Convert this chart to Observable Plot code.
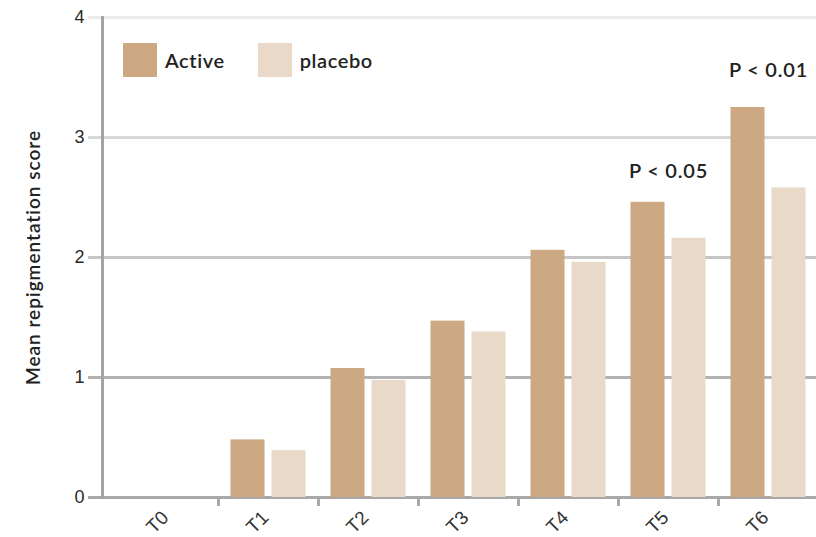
<!DOCTYPE html>
<html>
<head>
<meta charset="utf-8">
<script src="https://cdn.jsdelivr.net/npm/d3@7"></script>
<script src="https://cdn.jsdelivr.net/npm/@observablehq/plot@0.6"></script>
<style>
  body { margin: 0; background: #fff; }
  #wrap { position: relative; width: 816px; height: 537px; }
  #legend { position: absolute; left: 123px; top: 43px; display: flex; align-items: center;
            font-family: Lato, "Open Sans", sans-serif; font-weight: 600; font-size: 20px;
            letter-spacing: 0.6px; color: #222; }
  .item { display: flex; align-items: center; }
  .sw { width: 34px; height: 34px; margin-right: 8px; }
</style>
</head>
<body>
<div id="wrap"><div id="legend"></div></div>
<script>
const categories = ["T0", "T1", "T2", "T3", "T4", "T5", "T6"];
const activeValues = [0, 0.48, 1.075, 1.47, 2.06, 2.46, 3.25];
const placeboValues = [0, 0.39, 0.975, 1.38, 1.96, 2.16, 2.58];
const seriesNames = ["Active", "placebo"];
const yTicks = [0, 1, 2, 3, 4];
const annotationCats = ["T5", "T6"];
const annotationLabels = ["P < 0.05", "P < 0.01"];
const annotationY = [2.72, 3.56];
const yLabel = "Mean repigmentation score";

const colors = {Active: "#cca883", placebo: "#e8d9c8"};
const gridColor = d3.scaleLinear().domain([0, 1, 4]).range(["#a8a8a8", "#b2b2b2", "#ebebeb"]);

const activeData = categories.map((c, i) => ({cat: c, value: activeValues[i]}));
const placeboData = categories.map((c, i) => ({cat: c, value: placeboValues[i]}));
const annotations = annotationCats.map((c, i) => ({cat: c, label: annotationLabels[i], y: annotationY[i]}));

const gridMarks = yTicks.map(t => Plot.ruleY([t], {stroke: gridColor(t), strokeWidth: 3, insetLeft: -14}));

const chart = Plot.plot({
  width: 816,
  height: 537,
  marginLeft: 102,
  marginRight: 0,
  marginTop: 17,
  marginBottom: 40,
  style: {fontFamily: "'Liberation Sans', Arial, sans-serif", background: "#fff"},
  x: {type: "band", domain: categories, range: [118, 818], padding: 0, axis: null},
  y: {domain: [0, 4], axis: null},
  marks: [
    ...gridMarks,
    Plot.frame({anchor: "left", stroke: "#a3a3a3", strokeWidth: 3}),
    Plot.barY(activeData, {x: "cat", y: "value", fill: colors.Active, insetLeft: 12.5, insetRight: 53.5}),
    Plot.barY(placeboData, {x: "cat", y: "value", fill: colors.placebo, insetLeft: 53.5, insetRight: 12.5}),
    Plot.axisX({ticks: categories.slice(1), tickSize: 9, tickFormat: () => "", label: null, dx: -50, stroke: "#a8a8a8", strokeWidth: 3}),
    Plot.axisX({tickSize: 0, tickRotate: -45, tickPadding: 17, dx: -3, fontSize: 19, label: null, fill: "#333"}),
    Plot.axisY({ticks: yTicks, tickSize: 0, tickPadding: 18, fontSize: 18, label: null, fill: "#2a2a2a", tickFormat: d3.format("d")}),
    Plot.text(annotations, {x: "cat", y: "y", text: "label", fontFamily: "Lato", fontSize: 20, fontWeight: 600, fill: "#222"}),
    Plot.text([yLabel], {frameAnchor: "left", rotate: -90, dx: -69, textAnchor: "middle", fontFamily: "Lato", fontSize: 19, fontWeight: 600, fill: "#222"})
  ]
});
chart.querySelectorAll("text").forEach(t => {
  if (t.textContent.startsWith("P <")) t.style.letterSpacing = "0.8px";
  if (t.textContent === yLabel) t.style.letterSpacing = "1px";
});
document.getElementById("wrap").prepend(chart);

const legend = d3.select("#legend");
seriesNames.forEach((s, i) => {
  const item = legend.append("div").attr("class", "item").style("margin-right", i === 0 ? "33px" : "0");
  item.append("div").attr("class", "sw").style("background", colors[s]);
  item.append("span").text(s);
});
</script>
</body>
</html>
